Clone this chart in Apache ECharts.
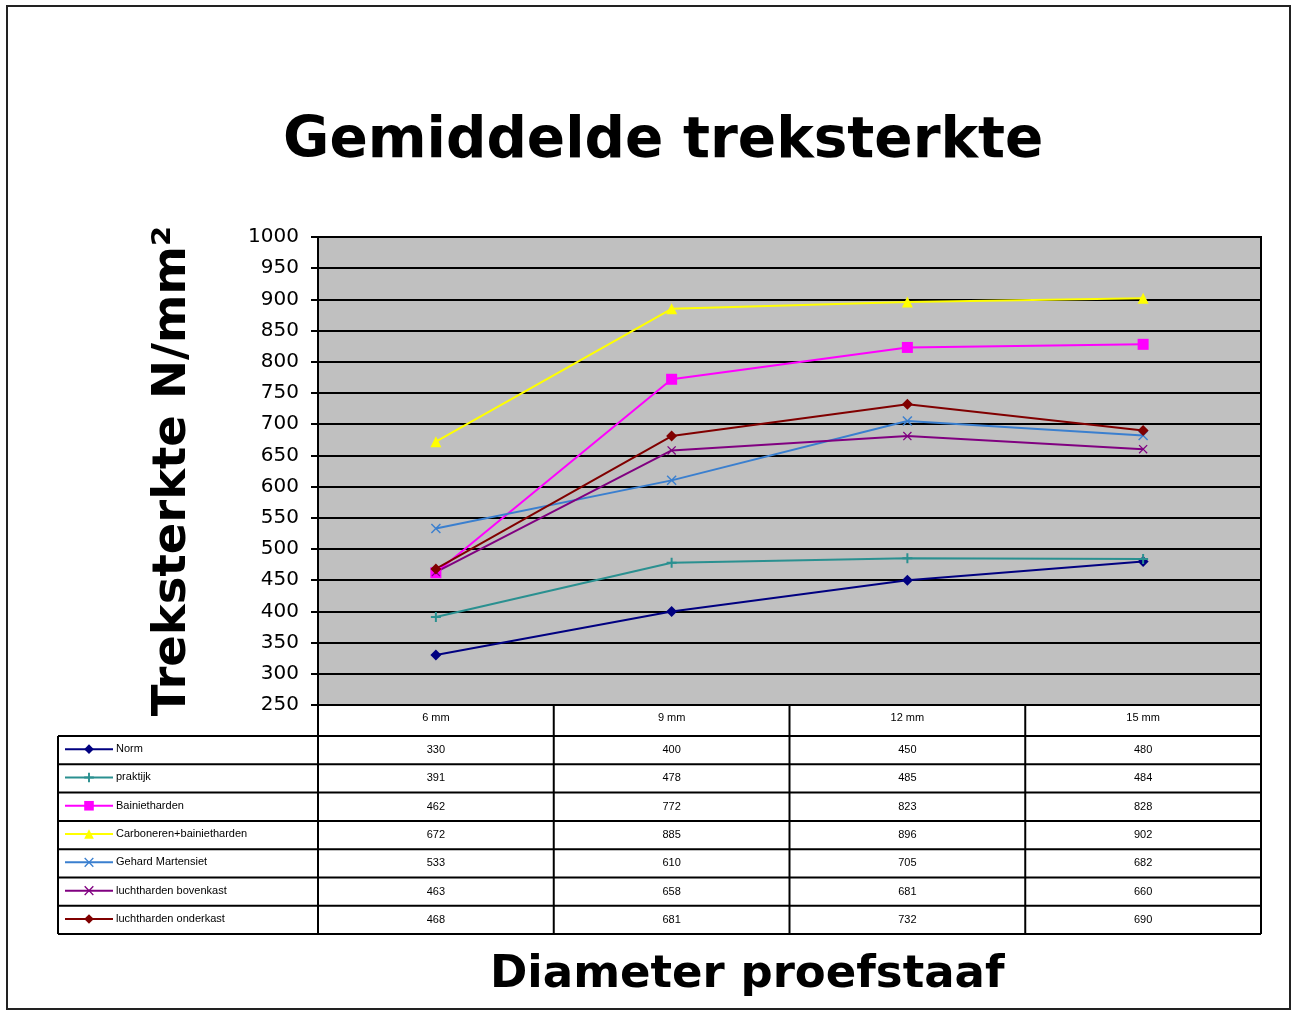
<!DOCTYPE html>
<html>
<head>
<meta charset="utf-8">
<script src="https://cdn.jsdelivr.net/npm/echarts@6/dist/echarts.min.js"></script>
<style>
html,body{margin:0;padding:0;background:#fff;}
#chart{width:1291px;height:1011px;}
</style>
</head>
<body>
<div id="chart"></div>
<script>
// ---- data ----
const categories = ['6 mm', '9 mm', '12 mm', '15 mm'];
const seriesNames = ['Norm', 'praktijk', 'Bainietharden', 'Carboneren+bainietharden', 'Gehard Martensiet', 'luchtharden bovenkast', 'luchtharden onderkast'];
const norm = [330, 400, 450, 480];
const praktijk = [391, 478, 485, 484];
const bainietharden = [462, 772, 823, 828];
const carboneren = [672, 885, 896, 902];
const gehardMartensiet = [533, 610, 705, 682];
const luchthardenBovenkast = [463, 658, 681, 660];
const luchthardenOnderkast = [468, 681, 732, 690];
const yTicks = { min: 250, max: 1000, interval: 50 };

const seriesData = [norm, praktijk, bainietharden, carboneren, gehardMartensiet, luchthardenBovenkast, luchthardenOnderkast];
const colors = ['#000080', '#2a9090', '#ff00ff', '#ffff00', '#3a7fcf', '#800080', '#800000'];
const PLUS = 'path://M4,0h2v4h4v2h-4v4h-2v-4h-4v-2h4z';
const CROSS = 'path://M1,0L5,4L9,0L10,1L6,5L10,9L9,10L5,6L1,10L0,9L4,5L0,1z';
const symbols = ['diamond', PLUS, 'rect', 'triangle', CROSS, CROSS, 'diamond'];
const symbolSizes = [11, 10, 11, 11, 10, 9, 11];

// ---- layout ----
const G = { left: 318, top: 237, right: 1261, bottom: 705 };
const TABLE = { left: 58, top: 736, rowH: 28.3 };
const FONT = 'DejaVu Sans, Verdana, sans-serif';
const SMALL = 'Liberation Sans, Arial, sans-serif';

const chart = echarts.init(document.getElementById('chart'), null, { renderer: 'canvas' });

const series = seriesNames.map((name, i) => ({
  name: name,
  type: 'line',
  data: seriesData[i],
  symbol: symbols[i],
  symbolSize: symbolSizes[i],
  showAllSymbol: true,
  lineStyle: { color: colors[i], width: 2 },
  itemStyle: { color: colors[i] },
  emphasis: { disabled: true },
  z: 3
}));

// one legend per table row, so each key sits in its own row
const legends = seriesNames.map((name, r) => ({
  orient: 'horizontal',
  left: 64, top: TABLE.top + r * TABLE.rowH + (TABLE.rowH - 13) / 2,
  itemWidth: 48, itemHeight: 12, padding: 0,
  selectedMode: false,
  textStyle: { fontFamily: SMALL, fontSize: 11, color: '#000', padding: [0, 0, 0, -2] },
  data: [name]
}));

chart.setOption({
  animation: false,
  backgroundColor: '#ffffff',
  title: [
    { text: 'Gemiddelde treksterkte', left: 278, top: 109,
      textStyle: { fontFamily: FONT, fontWeight: 'bold', fontSize: 56.5, color: '#000' } },
    { text: 'Diameter proefstaaf', left: 485, top: 948,
      textStyle: { fontFamily: FONT, fontWeight: 'bold', fontSize: 45, color: '#000' } }
  ],
  legend: legends,
  grid: { left: G.left, top: G.top, width: G.right - G.left, height: G.bottom - G.top,
          show: true, backgroundColor: '#c0c0c0', borderColor: '#000', borderWidth: 2 },
  xAxis: {
    type: 'category', data: categories, boundaryGap: true,
    axisLine: { lineStyle: { color: '#000', width: 2 } },
    axisTick: { show: false },
    axisLabel: { fontFamily: SMALL, fontSize: 11, color: '#000', margin: 7 }
  },
  yAxis: {
    type: 'value', min: yTicks.min, max: yTicks.max, interval: yTicks.interval,
    name: 'Treksterkte N/mm²', nameLocation: 'middle', nameRotate: 90, nameGap: 122,
    nameTextStyle: { fontFamily: FONT, fontWeight: 'bold', fontSize: 46.5, color: '#000' },
    axisLine: { show: true, lineStyle: { color: '#000', width: 2 } },
    axisTick: { show: true, inside: false, length: 7, lineStyle: { color: '#000', width: 2 } },
    axisLabel: { fontFamily: FONT, fontSize: 20, color: '#000', margin: 19, formatter: v => String(v) },
    splitLine: { show: true, lineStyle: { color: '#000', width: 2 } }
  },
  series: series
});

// ---- data table built from the arrays ----
const graphics = [];
const n = categories.length;
const bandW = (G.right - G.left) / n;
const tableBottom = TABLE.top + TABLE.rowH * seriesNames.length;
const lineStyle = { stroke: '#000', lineWidth: 2 };
// outer border of the picture
graphics.push({ type: 'rect', shape: { x: 7, y: 6, width: 1283, height: 1003 }, style: { fill: 'none', stroke: '#222', lineWidth: 2 }, silent: true });
// horizontal rules
for (let r = 0; r <= seriesNames.length; r++) {
  const y = TABLE.top + r * TABLE.rowH;
  graphics.push({ type: 'line', shape: { x1: TABLE.left, y1: y, x2: G.right, y2: y }, style: lineStyle, silent: true });
}
// vertical rules
graphics.push({ type: 'line', shape: { x1: TABLE.left, y1: TABLE.top, x2: TABLE.left, y2: tableBottom }, style: lineStyle, silent: true });
for (let c = 0; c <= n; c++) {
  const x = G.left + c * bandW;
  graphics.push({ type: 'line', shape: { x1: x, y1: G.bottom, x2: x, y2: tableBottom }, style: lineStyle, silent: true });
}
// values
seriesData.forEach((arr, r) => {
  arr.forEach((v, c) => {
    const x = chart.convertToPixel({ xAxisIndex: 0 }, c);
    graphics.push({ type: 'text', x: x, y: TABLE.top + (r + 0.5) * TABLE.rowH, silent: true,
      style: { text: String(v), fill: '#000', font: '11px ' + SMALL, align: 'center', verticalAlign: 'middle' } });
  });
});
chart.setOption({ graphic: graphics });
</script>
</body>
</html>
